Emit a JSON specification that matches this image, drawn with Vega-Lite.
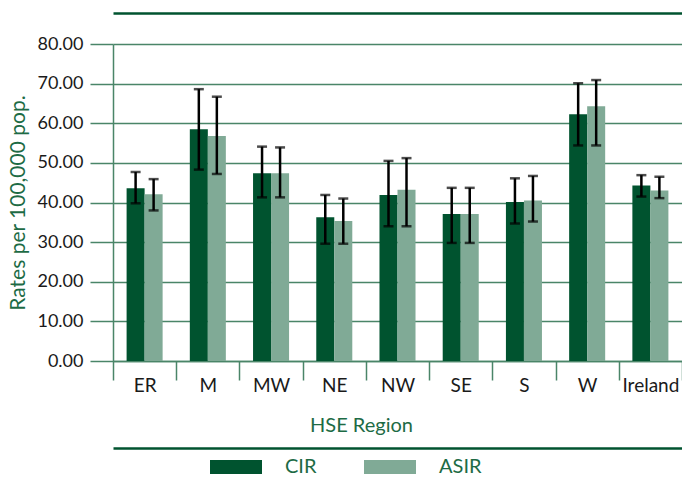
{
  "$schema": "https://vega.github.io/schema/vega-lite/v6.json",
  "width": 569,
  "height": 317,
  "autosize": "none",
  "padding": {"left": 113, "top": 44, "right": 0, "bottom": 116},
  "background": "white",
  "config": {
    "view": {"stroke": null},
    "font": "Lato",
    "axis": {
      "labelFont": "Lato", "labelFontSize": 18, "labelColor": "#1a1a1a",
      "titleFont": "Lato", "titleFontSize": 20, "titleFontWeight": "normal", "titleColor": "#1d6b45",
      "domainColor": "#4a8568", "tickColor": "#4a8568", "gridColor": "#4a8568",
      "domainWidth": 1.5, "tickWidth": 1.5, "gridWidth": 1.5, "gridOpacity": 1
    },
    "axisY": {
      "tickSize": 23, "labelPadding": 7, "grid": true, "titlePadding": 8, "titleFontSize": 21,
      "values": [0, 10, 20, 30, 40, 50, 60, 70, 80], "format": ".2f"
    }
  },
  "data": {
    "values": [
      {"region": "ER", "measure": "CIR", "value": 43.6, "lo": 39.8, "hi": 47.7},
      {"region": "ER", "measure": "ASIR", "value": 42.1, "lo": 38.0, "hi": 45.9},
      {"region": "M", "measure": "CIR", "value": 58.5, "lo": 48.3, "hi": 68.6},
      {"region": "M", "measure": "ASIR", "value": 56.8, "lo": 47.2, "hi": 66.7},
      {"region": "MW", "measure": "CIR", "value": 47.4, "lo": 41.3, "hi": 54.1},
      {"region": "MW", "measure": "ASIR", "value": 47.4, "lo": 41.3, "hi": 53.9},
      {"region": "NE", "measure": "CIR", "value": 36.3, "lo": 29.6, "hi": 41.9},
      {"region": "NE", "measure": "ASIR", "value": 35.3, "lo": 29.6, "hi": 41.0},
      {"region": "NW", "measure": "CIR", "value": 41.9, "lo": 34.0, "hi": 50.5},
      {"region": "NW", "measure": "ASIR", "value": 43.2, "lo": 34.0, "hi": 51.2},
      {"region": "SE", "measure": "CIR", "value": 37.1, "lo": 29.8, "hi": 43.7},
      {"region": "SE", "measure": "ASIR", "value": 37.1, "lo": 29.8, "hi": 43.7},
      {"region": "S", "measure": "CIR", "value": 40.1, "lo": 34.7, "hi": 46.1},
      {"region": "S", "measure": "ASIR", "value": 40.5, "lo": 35.2, "hi": 46.7},
      {"region": "W", "measure": "CIR", "value": 62.3, "lo": 54.4, "hi": 70.1},
      {"region": "W", "measure": "ASIR", "value": 64.3, "lo": 54.4, "hi": 70.9},
      {"region": "Ireland", "measure": "CIR", "value": 44.3, "lo": 41.5, "hi": 46.9},
      {"region": "Ireland", "measure": "ASIR", "value": 43.0, "lo": 41.1, "hi": 46.5}
    ]
  },
  "layer": [
    {
      "mark": {"type": "bar"},
      "encoding": {
        "x": {
          "field": "region", "type": "nominal", "sort": null,
          "scale": {"paddingInner": 0, "paddingOuter": 0},
          "axis": {"labelAngle": 0, "tickBand": "extent", "tickSize": 19, "labelPadding": -4, "labelFontSize": 19,
                   "titlePadding": 20, "grid": false, "title": "HSE Region", "titleX": 248}
        },
        "xOffset": {"field": "measure", "type": "nominal", "sort": ["CIR", "ASIR"],
                    "scale": {"paddingInner": 0, "paddingOuter": 0.755}},
        "y": {"field": "value", "type": "quantitative", "title": "Rates per 100,000 pop.",
              "scale": {"domain": [0, 80], "nice": false}},
        "color": {
          "field": "measure", "type": "nominal", "sort": ["CIR", "ASIR"],
          "scale": {"domain": ["CIR", "ASIR"], "range": ["#00532f", "#80aa96"]},
          "legend": {
            "orient": "none", "legendX": 97, "legendY": 397, "direction": "horizontal", "title": null,
            "symbolType": "M-1,-0.27L1,-0.27L1,0.27L-1,0.27Z", "symbolSize": 2704,
            "symbolStrokeWidth": 0, "symbolOpacity": 1, "labelFont": "Lato", "labelFontSize": 20, "labelColor": "#1d6b45",
            "labelOffset": 23, "columnPadding": 47
          }
        }
      }
    },
    {
      "mark": {"type": "rule", "color": "black", "strokeWidth": 2.5},
      "encoding": {
        "x": {"field": "region", "type": "nominal", "sort": null,
              "axis": {"orient": "top", "offset": 31, "labels": false, "ticks": false, "title": null, "grid": false,
                       "domainColor": "#00532f", "domainWidth": 2.5}},
        "xOffset": {"field": "measure", "type": "nominal", "sort": ["CIR", "ASIR"]},
        "y": {"field": "lo", "type": "quantitative", "title": "Rates per 100,000 pop."},
        "y2": {"field": "hi"}
      }
    },
    {
      "mark": {"type": "tick", "color": "black", "thickness": 2.5, "size": 10},
      "encoding": {
        "x": {"field": "region", "type": "nominal", "sort": null,
              "axis": {"orient": "bottom", "offset": 87, "labels": false, "ticks": false, "title": null, "grid": false,
                       "domainColor": "#00532f", "domainWidth": 2.5}},
        "xOffset": {"field": "measure", "type": "nominal", "sort": ["CIR", "ASIR"]},
        "y": {"field": "hi", "type": "quantitative", "title": "Rates per 100,000 pop."}
      }
    },
    {
      "mark": {"type": "tick", "color": "black", "thickness": 2.5, "size": 10},
      "encoding": {
        "x": {"field": "region", "type": "nominal", "sort": null, "axis": null},
        "xOffset": {"field": "measure", "type": "nominal", "sort": ["CIR", "ASIR"]},
        "y": {"field": "lo", "type": "quantitative", "title": "Rates per 100,000 pop."}
      }
    }
  ],
  "resolve": {"axis": {"x": "independent"}}
}
